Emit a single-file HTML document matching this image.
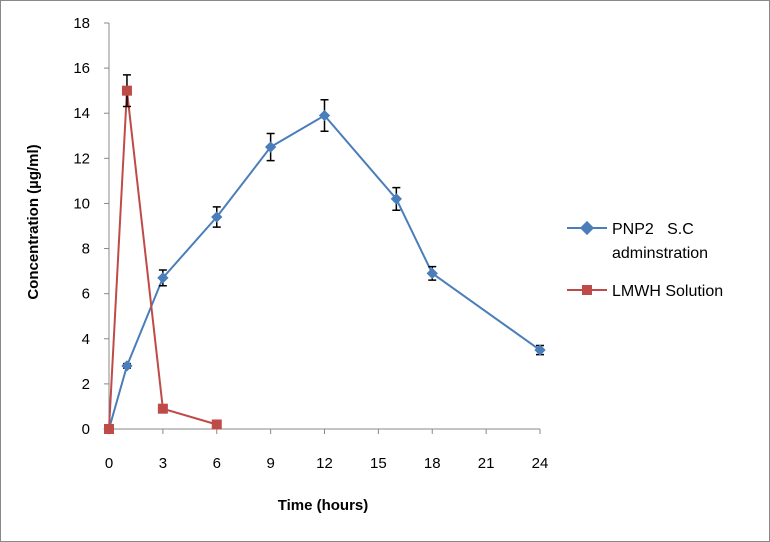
<!DOCTYPE html>
<html><head><meta charset="utf-8"><style>
body{margin:0;background:#fff}
svg{display:block;font-family:"Liberation Sans",sans-serif}
</style></head><body>
<svg id="chart" width="770" height="542">
<rect x="0.5" y="0.5" width="769" height="541" fill="#fff" stroke="#888"/>
<g id="axes"></g><g id="marks"></g>
<text x="323" y="510" font-size="15" font-weight="bold" text-anchor="middle">Time (hours)</text>
<text transform="translate(38,222) rotate(-90)" font-size="15" font-weight="bold" text-anchor="middle">Concentration (µg/ml)</text>
<g>
<g>
<line x1="567" y1="228" x2="607" y2="228" stroke="#4a7ebb" stroke-width="2"/>
<rect x="582" y="223" width="10" height="10" fill="#4a7ebb" transform="rotate(45 587 228)"/>
<text x="612" y="234" font-size="16">PNP2&#160;&#160;&#160;S.C</text>
<text x="612" y="258" font-size="16">adminstration</text></g>
<g>
<line x1="567" y1="290" x2="607" y2="290" stroke="#be4b48" stroke-width="2"/>
<rect x="582" y="285" width="10" height="10" fill="#be4b48"/>
<text x="612" y="296" font-size="16">LMWH Solution</text></g>
</g>
</svg>
<script>
const xTicks=[0,3,6,9,12,15,18,21,24];
const yTicks=[0,2,4,6,8,10,12,14,16,18];
const pnpTime=[0,1,3,6,9,12,16,18,24];
const pnpConc=[0,2.8,6.7,9.4,12.5,13.9,10.2,6.9,3.5];
const pnpErr=[0,0.1,0.35,0.45,0.6,0.7,0.5,0.3,0.2];
const lmwhTime=[0,1,3,6];
const lmwhConc=[0,15,0.9,0.2];
const lmwhErr=[0,0.7,0,0];
const X=v=>109+v*(431/24), Y=v=>429-v*(406/18);
const NS='http://www.w3.org/2000/svg';
const ax=document.getElementById('axes'), mk=document.getElementById('marks');
function mkEl(t,a,p){const e=document.createElementNS(NS,t);for(const k in a)e.setAttribute(k,a[k]);p.appendChild(e);return e;}
let l=mkEl('line',{x1:109,y1:Y(18),x2:109,y2:429,stroke:'#888'},ax);


l=mkEl('line',{x1:109,y1:429,x2:X(24),y2:429,stroke:'#888'},ax);


yTicks.forEach(v=>{mkEl('line',{x1:104,y1:Y(v),x2:109,y2:Y(v),stroke:'#888'},ax);
 const t=mkEl('text',{x:90,y:Y(v)+5,'font-size':15,'text-anchor':'end'},ax);t.textContent=v;
 
 });
xTicks.forEach(v=>{mkEl('line',{x1:X(v),y1:429,x2:X(v),y2:434,stroke:'#888'},ax);
 const t=mkEl('text',{x:X(v),y:468,'font-size':15,'text-anchor':'middle'},ax);t.textContent=v;
 
 });
function series(ts,cs,es,col,shape,name){
 const p=mkEl('polyline',{points:ts.map((t,i)=>X(t)+','+Y(cs[i])).join(' '),fill:'none',stroke:col,'stroke-width':2},mk);
 
 
 ts.forEach((t,i)=>{const x=X(t),y=Y(cs[i]);
  if(es[i]>0){const a=Y(cs[i]+es[i]),b=Y(cs[i]-es[i]);
   const g=mkEl('path',{d:`M${x},${a}V${b}M${x-4},${a}H${x+4}M${x-4},${b}H${x+4}`,stroke:'#000','stroke-width':1.5,fill:'none'},mk);
   
   }
  let m;
  if(shape==='d')m=mkEl('rect',{x:x-4,y:y-4,width:8,height:8,fill:col,transform:`rotate(45 ${x} ${y})`},mk);
  else m=mkEl('rect',{x:x-5,y:y-5,width:10,height:10,fill:col},mk);
  
  });
}
series(pnpTime,pnpConc,pnpErr,'#4a7ebb','d','pnp2');
series(lmwhTime,lmwhConc,lmwhErr,'#be4b48','s','lmwh');
</script>
</body></html>
